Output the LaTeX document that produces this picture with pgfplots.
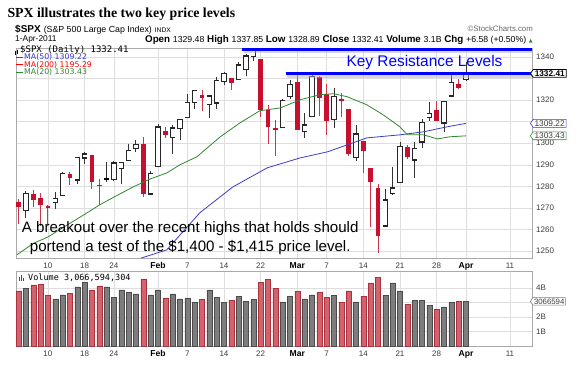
\documentclass[border=0pt]{standalone}
\usepackage{pgfplots}
\pgfplotsset{compat=1.18}
\usepackage{pgfplotstable}
\usepackage{fontspec}
\setmainfont{Liberation Sans}
\newfontfamily\serifb{Liberation Serif}
\newfontfamily\monof{DejaVu Sans Mono}
\newfontfamily\dejavu{DejaVu Sans}
\usetikzlibrary{shapes.symbols}
\newcommand{\fs}[1]{\fontsize{#1}{#1}\selectfont}
\definecolor{candlered}{RGB}{200,16,46}
\definecolor{volred}{RGB}{212,98,108}
\definecolor{volredb}{RGB}{170,50,62}
\definecolor{volgray}{RGB}{125,125,125}
\definecolor{volgrayb}{RGB}{75,75,75}
\definecolor{magreen}{RGB}{50,135,50}
\definecolor{mablue}{RGB}{60,60,200}
\definecolor{resblue}{RGB}{0,0,255}
\definecolor{gridgray}{RGB}{222,222,222}
\definecolor{bordergray}{RGB}{170,170,170}
\definecolor{labgray}{RGB}{60,60,60}

\pgfplotstableread{
i O H L C r f v
1 1272.95 1274.12 1262.66 1270.20 1 1 3.79
2 1268.78 1277.63 1265.36 1276.56 0 0 3.98
3 1276.29 1278.17 1270.43 1273.85 1 1 4.20
4 1274.41 1276.83 1261.70 1271.50 1 1 4.25
5 1270.84 1271.52 1262.18 1269.75 1 1 3.47
6 1272.58 1277.25 1269.62 1274.48 0 0 3.24
7 1275.65 1286.87 1275.65 1285.96 0 0 3.52
8 1285.78 1286.70 1280.47 1283.76 1 1 3.63
9 1282.90 1293.24 1281.24 1293.24 0 0 4.07
10 1293.22 1296.06 1290.16 1295.02 0 0 4.39
11 1294.52 1294.60 1278.92 1281.92 1 1 3.86
12 1280.85 1283.35 1271.26 1280.26 1 1 4.14
13 1283.63 1291.21 1282.07 1283.35 0 1 4.07
14 1283.29 1291.93 1282.47 1290.84 0 0 3.36
15 1288.17 1291.26 1281.07 1291.18 0 0 3.86
16 1291.97 1299.74 1291.97 1296.63 0 0 3.70
17 1297.51 1301.63 1295.86 1299.54 0 0 3.59
18 1299.63 1302.67 1275.10 1276.34 1 1 4.60
19 1276.50 1287.17 1276.50 1286.12 0 0 3.52
20 1289.14 1308.86 1289.14 1307.59 0 0 3.86
21 1305.91 1307.61 1302.62 1304.03 1 1 3.31
22 1302.77 1308.60 1294.83 1307.10 0 0 3.59
23 1307.01 1311.00 1301.67 1310.87 0 0 3.24
24 1311.85 1322.85 1311.85 1319.05 0 0 3.31
25 1318.76 1324.87 1316.03 1324.57 0 0 3.03
26 1322.48 1324.54 1314.89 1320.88 1 1 3.19
27 1318.13 1322.01 1311.74 1321.87 0 0 3.86
28 1318.66 1330.79 1316.08 1329.15 0 0 3.36
29 1328.73 1332.96 1326.90 1332.32 0 0 2.99
30 1330.43 1330.43 1324.61 1328.01 1 1 3.15
31 1329.51 1337.61 1329.51 1336.32 0 0 3.43
32 1334.37 1341.50 1331.00 1340.43 0 0 3.08
33 1340.38 1344.07 1338.12 1343.01 0 0 3.19
34 1338.91 1338.91 1312.33 1315.44 1 1 4.37
35 1315.44 1317.91 1299.55 1307.40 1 1 4.60
36 1307.09 1310.91 1294.26 1306.10 1 1 3.98
37 1307.34 1320.61 1307.34 1319.88 0 0 3.03
38 1321.61 1329.38 1320.55 1327.22 0 0 3.43
39 1328.64 1332.09 1306.14 1306.33 1 1 3.74
40 1305.47 1314.19 1302.58 1308.44 0 0 3.24
41 1312.37 1332.28 1312.37 1330.97 0 0 3.52
42 1330.73 1331.08 1312.59 1321.15 1 1 3.70
43 1322.72 1327.68 1303.99 1310.13 1 1 3.36
44 1311.05 1325.74 1306.86 1321.82 0 0 3.47
45 1319.92 1323.21 1312.27 1320.02 1 0 3.03
46 1315.72 1315.72 1294.21 1295.11 1 1 3.79
47 1293.43 1308.35 1291.99 1304.28 0 0 3.03
48 1301.19 1301.19 1286.37 1296.39 1 1 3.43
49 1288.46 1288.46 1261.12 1281.87 1 1 4.34
50 1279.46 1280.91 1249.05 1256.88 1 1 4.74
51 1261.61 1278.88 1261.61 1273.72 0 0 3.47
52 1276.71 1288.88 1276.18 1279.21 0 0 4.34
53 1281.65 1300.58 1281.65 1298.38 0 0 3.79
54 1298.29 1299.35 1292.70 1293.77 1 1 2.87
55 1292.19 1300.51 1284.05 1297.54 0 0 3.15
56 1300.61 1311.34 1297.74 1309.66 0 0 3.15
57 1311.80 1319.18 1310.15 1313.80 0 0 2.80
58 1315.45 1319.74 1310.19 1310.19 1 1 2.53
59 1309.37 1319.45 1305.26 1319.44 0 0 2.69
60 1321.89 1331.74 1321.89 1328.26 0 0 2.97
61 1327.44 1329.77 1325.03 1325.83 1 1 3.08
62 1329.48 1337.85 1328.89 1332.41 0 0 3.07
}\spx

\pgfplotsset{
  chartaxis/.style={
    scale only axis, width=516pt,
    xmin=0.646, xmax=71.0, clip=false,
    axis line style={draw=bordergray, line width=0.6pt},
    major tick length=0pt,
    xtick={5,10,14,20,24,29,34,39,43,48,53,58,62,68},
    xticklabels={10,18,24,\textcolor{black}{\bfseries\fs{8.6}Feb},7,14,22,\textcolor{black}{\bfseries\fs{8.6}Mar},7,14,21,28,\textcolor{black}{\bfseries\fs{8.6}Apr},11},
    xticklabel style={font=\fs{8}, text=labgray, anchor=base, inner sep=0pt},
    yticklabel pos=right,
    yticklabel style={font=\fs{8}, text=labgray, anchor=west, inner sep=0pt, xshift=4pt},
    /pgf/number format/.cd, 1000 sep={}, assume math mode=true, /pgfplots/.cd,
    grid=major, major grid style={draw=gridgray, line width=0.5pt},
  },
  wick/.style 2 args={draw=none, mark=none, forget plot,
    restrict expr to domain={\thisrow{r}}{#1:#1},
    error bars/.cd, y dir=both, y explicit, error mark=none,
    error bar style={draw=#2, line width=0.9pt, solid}},
  body/.style n args={3}{draw=none, mark=none, forget plot,
    restrict expr to domain={\thisrow{r}+2*\thisrow{f}}{#1:#1},
    error bars/.cd, y dir=both, y explicit, error mark=none,
    error bar style={draw=#2, line width=#3, solid}},
}
\tikzset{tag/.style={signal, signal to=west, signal pointer angle=110, fill=white,
  line width=0.6pt, inner xsep=1.5pt, inner ysep=1pt, anchor=west, xshift=-2pt, text=labgray}}

\begin{document}
\begin{tikzpicture}
\path[use as bounding box] (0pt,0pt) rectangle (577pt,370pt);
\fill[white] (0pt,0pt) rectangle (577pt,370pt);

% ---------------- price panel
\begin{axis}[chartaxis,
  at={(16pt,111.7pt)}, anchor=south west, height=210.3pt,
  ymin=1246.6, ymax=1344.2,
  ytick={1250,1260,...,1340},
  yticklabels={1250,1260,1270,1280,1290,1300,,1320,,1340},
  xticklabel style={yshift=-10.5pt},
]
% wicks
\addplot[wick={1}{candlered!85}] table[x=i, y expr={(\thisrow{H}+\thisrow{L})/2}, y error expr={(\thisrow{H}-\thisrow{L})/2}]{\spx};
\addplot[wick={0}{black!80}] table[x=i, y expr={(\thisrow{H}+\thisrow{L})/2}, y error expr={(\thisrow{H}-\thisrow{L})/2}]{\spx};
% filled bodies
\addplot[body={3}{candlered}{4.8pt}] table[x=i, y expr={(\thisrow{O}+\thisrow{C})/2}, y error expr={max(abs(\thisrow{C}-\thisrow{O})/2,0.3)}]{\spx};
\addplot[body={2}{black}{4.8pt}] table[x=i, y expr={(\thisrow{O}+\thisrow{C})/2}, y error expr={max(abs(\thisrow{C}-\thisrow{O})/2,0.3)}]{\spx};
% hollow bodies
\addplot[body={0}{black!85}{5.2pt}] table[x=i, y expr={(\thisrow{O}+\thisrow{C})/2}, y error expr={abs(\thisrow{C}-\thisrow{O})/2+0.3}]{\spx};
\addplot[body={0}{white}{3.8pt}] table[x=i, y expr={(\thisrow{O}+\thisrow{C})/2}, y error expr={max(abs(\thisrow{C}-\thisrow{O})/2-0.3,0)}]{\spx};
\addplot[body={1}{candlered}{5.2pt}] table[x=i, y expr={(\thisrow{O}+\thisrow{C})/2}, y error expr={abs(\thisrow{C}-\thisrow{O})/2+0.3}]{\spx};
\addplot[body={1}{white}{3.8pt}] table[x=i, y expr={(\thisrow{O}+\thisrow{C})/2}, y error expr={max(abs(\thisrow{C}-\thisrow{O})/2-0.3,0)}]{\spx};

% moving averages
\addplot[mablue, line width=0.8pt, forget plot] coordinates {
(17.7,1246.7) (21.2,1250.5) (25.7,1267.7) (30.2,1279.7) (34.9,1288.6) (39.4,1293.2)
(43.1,1296.0) (48.5,1302.5) (53,1303.9) (56.2,1305.3) (59.4,1307.6) (62,1309.22)};
\addplot[magreen, line width=0.8pt, forget plot] coordinates {
(0.8,1248.3) (3,1253.5) (5,1256.5) (7.6,1262) (10,1267) (12.1,1271.5) (14,1275)
(16.6,1279.7) (19,1283.5) (21.2,1286.2) (23,1290) (25.3,1293.7) (28.5,1303.0)
(31.2,1309.5) (33.9,1315.1) (36.7,1316.4) (39.4,1320.2) (42.1,1322.5) (43.9,1323.0)
(45.8,1321.6) (48.5,1317.8) (50.7,1313.2) (53,1307.6) (54,1303.9) (56.2,1303.9)
(58.1,1302.0) (59.8,1303.0) (62,1303.43)};

% resistance lines
\addplot[black!30, opacity=0.5, line width=3pt, forget plot] coordinates {(31.7,1342.4) (71.0,1342.4)};
\addplot[black!30, opacity=0.5, line width=3pt, forget plot] coordinates {(37.6,1331.2) (71.0,1331.2)};
\addplot[resblue, line width=3pt, forget plot] coordinates {(31.5,1343.6) (71.0,1343.6)};
\addplot[resblue, line width=3pt, forget plot] coordinates {(37.4,1332.4) (70.8,1332.4)};

\node[anchor=base west, inner sep=0pt, text=resblue, font=\fs{15.4}] at (axis cs:45.7,1335.4) {Key Resistance Levels};
\node[anchor=base, inner sep=0pt, font=\fs{15.1}] at (axis cs:24.4,1258.5) {A breakout over the recent highs that holds should};
\node[anchor=base, inner sep=0pt, font=\fs{15.1}] at (axis cs:24.4,1249.95) {portend a test of the \$1,400 - \$1,415 price level.};

\coordinate (tagA) at (axis cs:71.0,1332.41);
\coordinate (tagB) at (axis cs:71.0,1309.22);
\coordinate (tagC) at (axis cs:71.0,1303.43);
\end{axis}

% ---------------- volume panel
\begin{axis}[chartaxis,
  at={(16pt,23.3pt)}, anchor=south west, height=75pt,
  ymin=-0.06, ymax=5.11,
  ytick={1,2,3,4}, yticklabels={1B,2B,,4B},
  xticklabel style={yshift=-9.5pt},
]
\addplot[ybar, bar width=5pt, bar shift=0pt, fill=volgray, draw=volgrayb, line width=0.5pt, forget plot,
  restrict expr to domain={\thisrow{r}}{0:0}] table[x=i, y=v]{\spx};
\addplot[ybar, bar width=5pt, bar shift=0pt, fill=volred, draw=volredb, line width=0.5pt, forget plot,
  restrict expr to domain={\thisrow{r}}{1:1}] table[x=i, y=v]{\spx};
\coordinate (tagD) at (axis cs:71.0,3.067);
\end{axis}

% value tags on top of the tick labels
\node[tag, draw=black, line width=0.8pt, text=black, font=\bfseries\fs{8.3}] at (tagA) {1332.41};
\node[tag, draw=mablue, font=\fs{8.3}] at (tagB) {1309.22};
\node[tag, draw=magreen, font=\fs{8.3}] at (tagC) {1303.43};
\node[tag, draw=gray, inner xsep=1pt, font=\fs{7.8}] at (tagD) {3066594};

% ---------------- texts around
\node[anchor=base west, inner sep=0pt, font=\serifb\bfseries\fs{13.8}] at (7.3pt,352.7pt) {SPX illustrates the two key price levels};
\node[anchor=base west, inner sep=0pt] at (15pt,337.3pt) {{\bfseries\fs{10}\$SPX}\hspace{3pt}{\fs{8.8}(S\&P 500 Large Cap Index)}\hspace{3pt}{\fs{6.7}INDX}};
\node[anchor=base east, inner sep=0pt, font=\fs{7.8}, text=black!60] at (533pt,338.3pt) {\copyright StockCharts.com};
\node[anchor=base west, inner sep=0pt, font=\fs{8.4}] at (15pt,328.3pt) {1-Apr-2011};
\node[anchor=base east, inner sep=0pt] at (533pt,327.5pt) {{\bfseries\fs{9.8}Open} {\fs{8.7}1329.48} {\bfseries\fs{9.8}High} {\fs{8.7}1337.85} {\bfseries\fs{9.8}Low} {\fs{8.7}1328.89} {\bfseries\fs{9.8}Close} {\fs{8.7}1332.41} {\bfseries\fs{9.8}Volume} {\fs{8.7}3.1B} {\bfseries\fs{9.8}Chg} {\fs{8.7}+6.58 (+0.50\%)} {\dejavu\fs{5}\textcolor{magreen}{▲}}};

% legends
\fill[black] (15pt,315pt) rectangle (16pt,319pt);
\fill[black] (17pt,316pt) rectangle (18pt,320pt);
\node[anchor=base west, inner sep=0pt, font=\monof\fs{9}] at (20pt,317.5pt) {\$SPX (Daily) 1332.41};
\draw[mablue, line width=1.3pt] (16pt,312.8pt) -- (23pt,312.8pt);
\node[anchor=base west, inner sep=0pt, font=\dejavu\fs{7.8}, text=mablue] at (24pt,310pt) {MA(50) 1309.22};
\draw[red, line width=1.3pt] (16pt,305.3pt) -- (23pt,305.3pt);
\node[anchor=base west, inner sep=0pt, font=\dejavu\fs{7.8}, text=red] at (24pt,302.5pt) {MA(200) 1195.29};
\draw[magreen, line width=1.3pt] (16pt,297.8pt) -- (23pt,297.8pt);
\node[anchor=base west, inner sep=0pt, font=\dejavu\fs{7.8}, text=magreen] at (24pt,295pt) {MA(20) 1303.43};
\fill[black!70] (19pt,89.3pt) rectangle (20.3pt,93pt);
\fill[black!70] (21pt,89.3pt) rectangle (22.3pt,95pt);
\fill[black!70] (23pt,89.3pt) rectangle (24.3pt,92pt);
\node[anchor=base west, inner sep=0pt, font=\monof\fs{8.5}] at (28pt,89.3pt) {Volume 3,066,594,304};
\end{tikzpicture}
\end{document}
